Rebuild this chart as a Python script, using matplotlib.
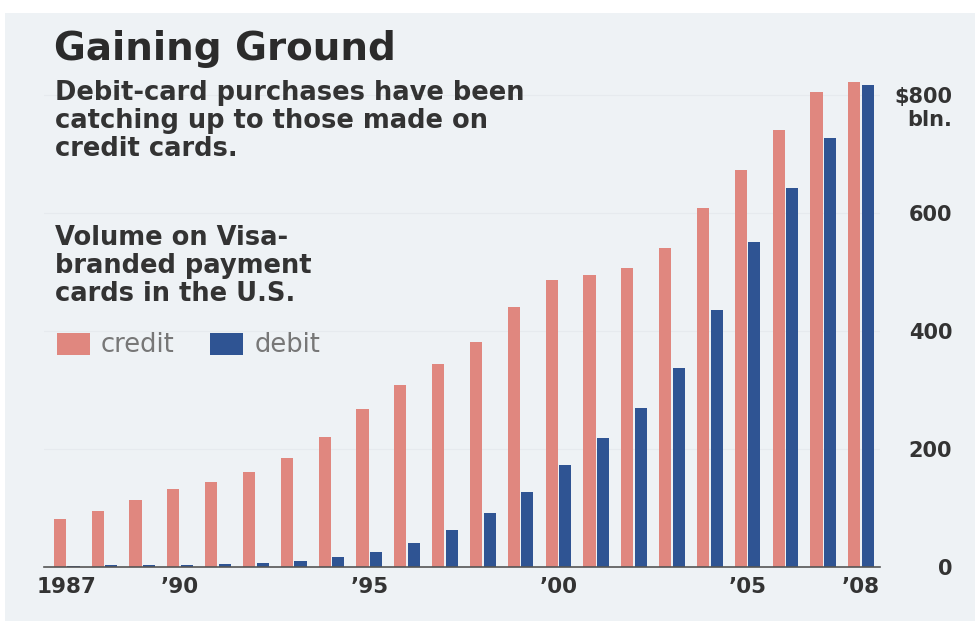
import matplotlib
matplotlib.use("Agg")
import matplotlib.pyplot as plt
import matplotlib.transforms as mtransforms
from matplotlib.patches import Rectangle
import numpy as np

years = list(range(1987, 2009))
credit = [81, 95, 113, 132, 144, 161, 185, 220, 268, 308, 344, 381,
          441, 486, 495, 507, 541, 608, 673, 741, 805, 822]
debit = [2, 3, 3, 4, 5, 6, 11, 17, 26, 41, 62, 92,
         127, 173, 219, 270, 337, 436, 551, 642, 727, 817]
xtick_years = [1987, 1990, 1995, 2000, 2005, 2008]
xtick_labels = ["1987", "\u201990", "\u201995", "\u201900", "\u201905", "\u201908"]
ytick_vals = [0, 200, 400, 600, 800]
ytick_labels = ["0", "200", "400", "600", "$800"]

W, H = 980, 627
BG = "#eef2f5"
CREDIT_C = "#e0877f"
DEBIT_C = "#2f5493"
TXT = "#333333"

plt.rcParams['font.family'] = ['DejaVu Sans']

fig = plt.figure(figsize=(W / 100, H / 100), dpi=100, facecolor="white")
fig.patches.append(Rectangle((5 / W, 1 - 621 / H), 970 / W, 608 / H,
                             transform=fig.transFigure, facecolor=BG,
                             edgecolor="none", zorder=-10))

ax_l, ax_r, ax_b, ax_t = 44, 880, 567, 77
ax = fig.add_axes([ax_l / W, 1 - ax_b / H, (ax_r - ax_l) / W, (ax_b - ax_t) / H])
ax.set_facecolor("none")

x = np.array(years, dtype=float)
bw = 0.32
ax.bar(x - 0.18, credit, width=bw, color=CREDIT_C, zorder=3)
ax.bar(x + 0.18, debit, width=bw, color=DEBIT_C, zorder=3)

ax.set_xlim(1986.4, 2008.5)
ax.set_ylim(0, 830)

for s in ["top", "left", "right"]:
    ax.spines[s].set_visible(False)
ax.spines["bottom"].set_color("#555555")
ax.spines["bottom"].set_linewidth(1.2)
ax.spines["bottom"].set_zorder(4)

ax.set_yticks(ytick_vals)
ax.set_yticklabels(ytick_labels)
ax.yaxis.tick_right()
ax.tick_params(axis="y", length=0, pad=52, labelsize=15, labelcolor=TXT)
for lab in ax.get_yticklabels():
    lab.set_horizontalalignment("right")
    lab.set_fontweight("bold")
ax.grid(axis="y", color="#e6eaee", linewidth=0.8, zorder=0)

ax.set_xticks(xtick_years)
ax.set_xticklabels(xtick_labels)
ax.tick_params(axis="x", length=0, pad=7, labelsize=15.5, labelcolor=TXT)
for lab in ax.get_xticklabels():
    lab.set_fontweight("bold")

trans = mtransforms.blended_transform_factory(ax.transAxes, ax.transData)
ax.annotate("bln.", xy=(1, 800), xycoords=trans, xytext=(52, -18),
            textcoords="offset points", ha="right", va="center",
            fontsize=15, fontweight="bold", color=TXT, annotation_clip=False)

def ft(xp, yp, s, **kw):
    fig.text(xp / W, 1 - yp / H, s, **kw)

ft(54, 49, "Gaining Ground", fontsize=28, fontweight="bold", color="#2b2b2b", va="center")
sub = ["Debit-card purchases have been", "catching up to those made on", "credit cards."]
for i, s in enumerate(sub):
    ft(55, 93 + 28 * i, s, fontsize=18.5, fontweight="bold", color=TXT, va="center")
vol = ["Volume on Visa-", "branded payment", "cards in the U.S."]
for i, s in enumerate(vol):
    ft(55, 238 + 28 * i, s, fontsize=18.5, fontweight="bold", color=TXT, va="center")

fig.patches.append(Rectangle((57 / W, 1 - 355 / H), 33 / W, 22 / H,
                             transform=fig.transFigure, facecolor=CREDIT_C, edgecolor="none"))
fig.patches.append(Rectangle((210 / W, 1 - 355 / H), 33 / W, 22 / H,
                             transform=fig.transFigure, facecolor=DEBIT_C, edgecolor="none"))
ft(101, 345, "credit", fontsize=18.5, color="#777777", va="center")
ft(255, 345, "debit", fontsize=18.5, color="#777777", va="center")

fig.savefig("out.png", dpi=100, facecolor=fig.get_facecolor())
